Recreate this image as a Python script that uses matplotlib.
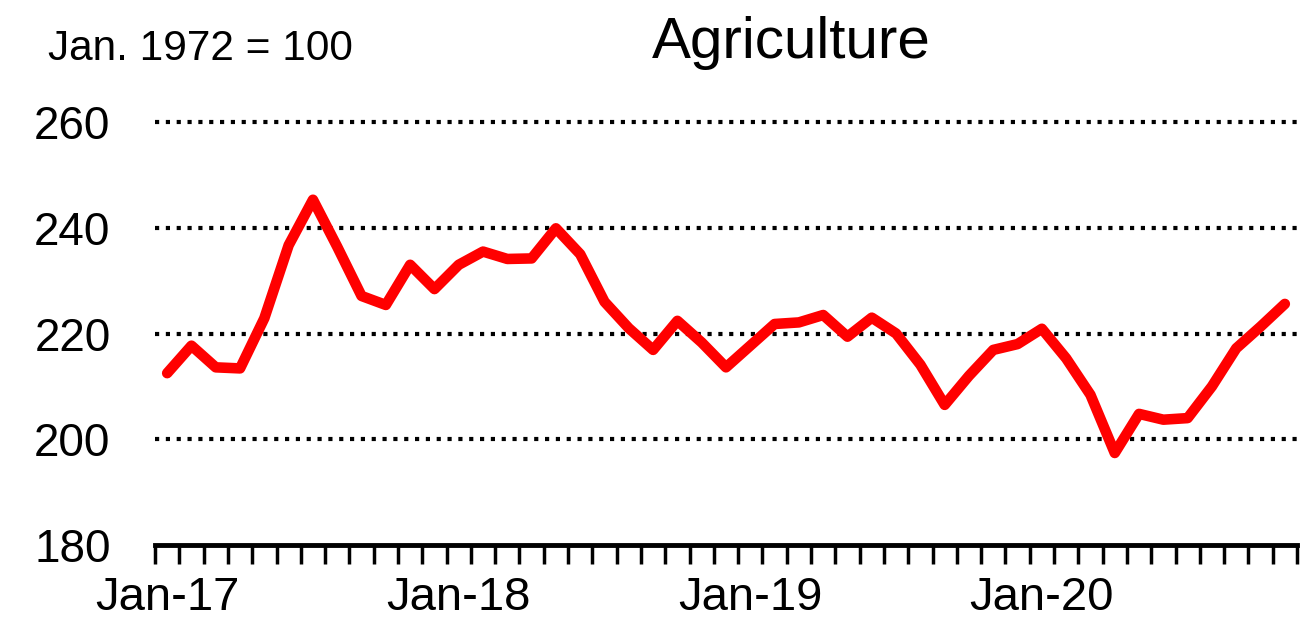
import numpy as np
import pandas as pd
import matplotlib
matplotlib.use('Agg')
import matplotlib.pyplot as plt

plt.rcParams['font.family'] = ['Liberation Sans', 'DejaVu Sans']

# Monthly agriculture index, Jan 2017 - Nov 2020 (Jan. 1972 = 100)
months = pd.date_range('2017-01-01', periods=47, freq='MS')
agri_index = [212.5, 217.7, 213.6, 213.4, 222.9, 236.7, 245.3, 236.4, 227.1, 225.4,
              233.0, 228.4, 233.0, 235.5, 234.1, 234.2, 239.9, 235.0, 226.0, 221.0,
              216.9, 222.4, 218.3, 213.6, 217.7, 221.8, 222.1, 223.5, 219.4, 223.0,
              220.0, 214.1, 206.5, 212.0, 216.9, 218.0, 220.9, 215.3, 208.4, 197.4,
              204.8, 203.7, 204.0, 210.0, 217.2, 221.3, 225.6]
y_ticks = [180, 200, 220, 240, 260]
label_months = ['Jan-17', 'Jan-18', 'Jan-19', 'Jan-20']

fig = plt.figure(figsize=(13.06, 6.21), dpi=100)
ax = fig.add_axes([0.1187, 0.1224, 0.8744, 0.6811])

x = np.arange(len(months))
ax.plot(x, agri_index, color='#ff0000', lw=7.6, solid_joinstyle='round',
        solid_capstyle='round', zorder=3)

ax.set_xlim(-0.5, len(months) - 0.5)
ax.set_ylim(y_ticks[0], y_ticks[-1])

# dotted horizontal gridlines (top one sits on the axes edge, so no clipping)
for v in y_ticks[1:]:
    ax.axhline(v, color='black', lw=3, ls=(0, (1, 1.6)), zorder=1, clip_on=False)

ax.set_yticks(y_ticks)
ax.set_yticklabels([str(v) for v in y_ticks])
ax.tick_params(axis='y', length=0, pad=32, labelsize=33)

# labels every January, tick marks between months
label_pos = [i for i, m in enumerate(months) if m.strftime('%b-%y') in label_months]
ax.set_xticks(label_pos)
ax.set_xticklabels([months[i].strftime('%b-%y') for i in label_pos])
ax.set_xticks(np.arange(-0.5, len(months)), minor=True)
ax.tick_params(axis='x', which='major', length=0, pad=22, labelsize=34)
ax.tick_params(axis='x', which='minor', length=14, width=2.5, direction='out')

for s in ['top', 'right', 'left']:
    ax.spines[s].set_visible(False)
ax.spines['bottom'].set_linewidth(3.5)

fig.text(0.606, 0.9066, 'Agriculture', fontsize=42, ha='center', va='baseline')
fig.text(0.0368, 0.903, 'Jan. 1972 = 100', fontsize=30.5, ha='left', va='baseline')

fig.savefig('out.png', dpi=100)
